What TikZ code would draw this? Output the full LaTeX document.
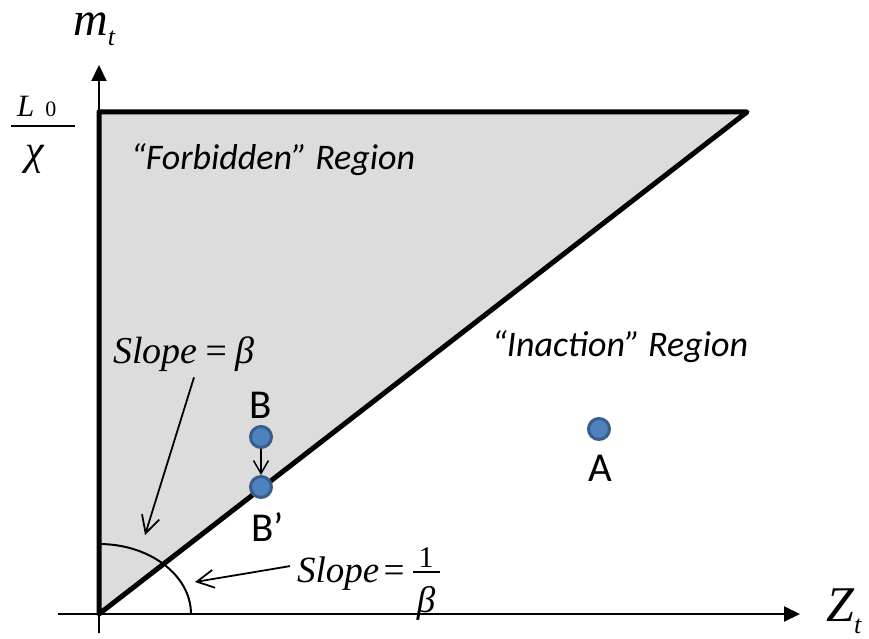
\documentclass[tikz,border=0pt]{standalone}
\usepackage{fontspec}
\setmainfont{Carlito}
\newfontfamily\serifit{Liberation Serif}
\usetikzlibrary{arrows.meta,positioning}

\definecolor{zonegray}{HTML}{DCDCDC}
\definecolor{dotfill}{HTML}{4F81BD}
\definecolor{dotline}{HTML}{385D8A}

\begin{document}
\begin{tikzpicture}[
    x=1pt, y=-1pt,
    axis/.style={line width=2pt, -{Triangle[length=16pt,width=15pt]}},
    border/.style={line width=5pt, line join=round, fill=zonegray},
    pointer/.style={line width=1.8pt, -{Straight Barb[length=17pt,width=18pt]}},
    shortpointer/.style={line width=1.5pt, -{Straight Barb[length=13pt,width=15pt]}},
    fracbar/.style={line width=1.5pt},
    dot/.style={
        circle,
        fill=dotfill,
        draw=dotline,
        line width=3pt,
        minimum size=21pt,
        inner sep=0pt
    },
    region/.style={font=\fontsize{36}{40}\selectfont\itshape, inner sep=0pt},
    ptlabel/.style={font=\fontsize{41}{44}\selectfont, inner sep=0pt},
    mathlabel/.style={font=\serifit\fontsize{38}{40}\selectfont, inner sep=0pt}
]
\useasboundingbox (0,0) rectangle (869,639);

% =========================================================
% Corners and axes
% =========================================================
\coordinate (O) at (99,614);
\coordinate (cornerL) at (99,112);
\coordinate (cornerR) at (747,112);
\coordinate (ybot) at (99,633);
\coordinate (ytop) at (99,65);
\coordinate (xleft) at (58,614);
\coordinate (xright) at (800,614);

% Forbidden zone
\draw[border] (O) -- (cornerL) -- (cornerR) -- cycle;

% Angle arc
\draw[line width=2pt] (191,614) arc[start angle=0, end angle=-90, x radius=92, y radius=70];

\draw[axis] (ybot) -- (ytop);
\draw[axis] (xleft) -- (xright);

% Axis labels
\node[mathlabel, anchor=base west] (mlabel) at (73,36)
    {\fontsize{48}{50}\selectfont\itshape m\raisebox{-10pt}{\fontsize{26}{28}\selectfont t}};
\node[mathlabel, anchor=base west] (zlabel) at (826,621)
    {\fontsize{50}{52}\selectfont\itshape Z\raisebox{-12pt}{\fontsize{26}{28}\selectfont t}};

% L0 / chi
\node[mathlabel, anchor=base west] (numL) at (17,117)
    {\fontsize{31}{32}\selectfont\itshape L\hspace{11pt}\upshape\fontsize{22}{22}\selectfont 0};
\node[mathlabel] (denchi) at (35,159) {\fontsize{42}{44}\selectfont\itshape χ};
\coordinate (barLa) at (11,126);
\coordinate (barLb) at (75,126);
\draw[fracbar] (barLa) -- (barLb);

% =========================================================
% Region texts
% =========================================================
\node[region, anchor=base] (forbid) at (273,169) {“Forbidden” Region};
\node[region, anchor=base] (inact) at (620,356) {“Inaction” Region};

% =========================================================
% Points
% =========================================================
\node[dot] (ptB) at (261,437) {};
\node[dot] (ptBp) at (261,487) {};
\node[dot] (ptA) at (599,429) {};
\node[ptlabel, anchor=base] (labB) at (261,418) {B};
\node[ptlabel, anchor=base west] (labBp) at (251,541) {B’};
\node[ptlabel, anchor=base] (labA) at (600,481) {A};

\draw[shortpointer] (ptB) -- (ptBp);

% =========================================================
% Slope labels
% =========================================================
\node[mathlabel, anchor=base west] (slopeA) at (113,363) {\itshape Slope\,=\,β};
\coordinate (tipA) at (145,535);
\draw[pointer] ([xshift=10pt,yshift=-6pt]slopeA.south) -- (tipA);

\node[mathlabel, anchor=base west] (slopeB) at (297,582)
    {\fontsize{37}{38}\selectfont\itshape Slope\kern2pt=};
\node[mathlabel] (numone) at (426,558) {\fontsize{30}{30}\selectfont 1};
\node[mathlabel] (denbeta) at (426,603) {\fontsize{37}{38}\selectfont\itshape β};
\coordinate (barBa) at (413,572);
\coordinate (barBb) at (440,572);
\draw[fracbar] (barBa) -- (barBb);
\coordinate (tipB) at (195,582);
\draw[pointer] ([shift={(-7pt,7pt)}]slopeB.west) -- (tipB);

\end{tikzpicture}
\end{document}
